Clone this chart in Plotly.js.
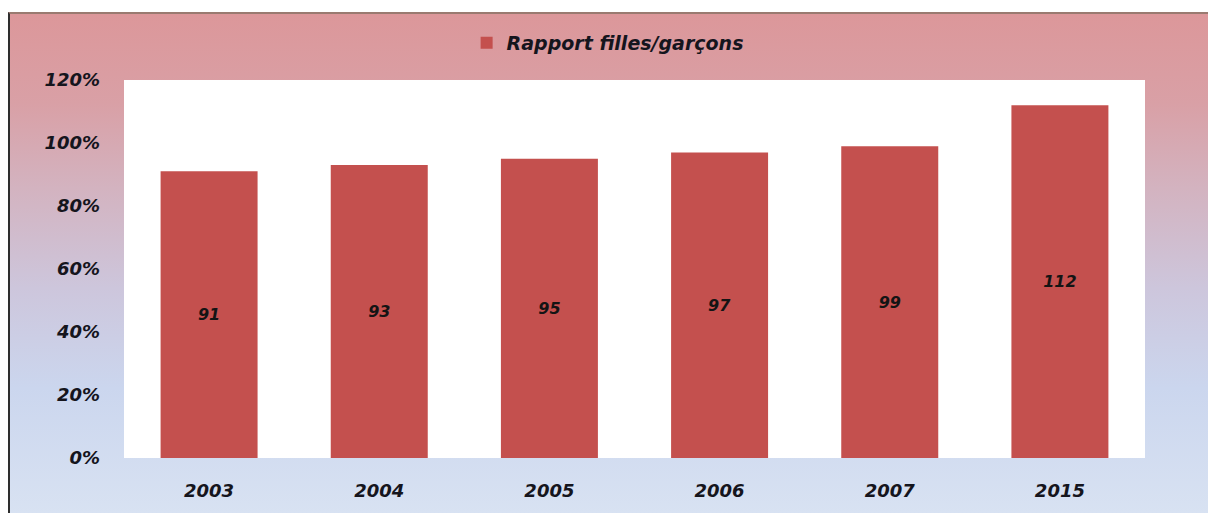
<!DOCTYPE html>
<html>
<head>
<meta charset="utf-8">
<script src="https://cdn.plot.ly/plotly-3.0.1.min.js"></script>
<style>
  html, body { margin: 0; padding: 0; background: #ffffff; width: 1208px; height: 513px; overflow: hidden; }
  #bg {
    position: absolute; left: 8px; top: 12px; width: 1200px; height: 501px;
    border-left: 2px solid #2e2e2e; border-top: 2px solid #9a7a70;
    box-sizing: border-box;
    background: linear-gradient(to bottom, #dc979a 0%, #d9a0a6 18%, #d3b3c0 35%, #cdc6dc 55%, #cbd6ee 75%, #d8e2f2 100%);
  }
  #chart { position: absolute; left: 0; top: 0; width: 1208px; height: 513px; }
</style>
</head>
<body>
<div id="bg"></div>
<div id="chart"></div>
<script>
const categories = ["2003", "2004", "2005", "2006", "2007", "2015"];
const ratioValues = [91, 93, 95, 97, 99, 112];
const valueLabels = ["91", "93", "95", "97", "99", "112"];
const yTickValues = [0, 20, 40, 60, 80, 100, 120];
const yTickLabels = ["0%", "20%", "40%", "60%", "80%", "100%", "120%"];
const seriesName = "Rapport filles/garçons";

const labelFont = { family: "DejaVu Sans", size: 18, color: "#15151d", weight: "bold", style: "italic" };

const trace = {
  type: "bar",
  x: categories,
  y: ratioValues,
  name: seriesName,
  text: valueLabels,
  textposition: "inside",
  insidetextanchor: "middle",
  textangle: 0,
  textfont: { family: "DejaVu Sans", size: 16, color: "#141414", weight: "bold", style: "italic" },
  marker: { color: "#c4504e" },
  showlegend: true,
  hoverinfo: "none"
};

const layout = {
  width: 1208,
  height: 513,
  margin: { l: 124, r: 63, t: 80, b: 55 },
  paper_bgcolor: "rgba(0,0,0,0)",
  plot_bgcolor: "#ffffff",
  bargap: 0.43,
  showlegend: true,
  legend: {
    orientation: "h",
    xref: "container", yref: "container",
    x: 0.503, xanchor: "center",
    y: 1 - 43 / 513, yanchor: "middle",
    bgcolor: "rgba(0,0,0,0)",
    itemwidth: 30,
    font: { family: "DejaVu Sans", size: 19, color: "#15151d", weight: "bold", style: "italic" }
  },
  xaxis: {
    type: "category",
    showgrid: false,
    zeroline: false,
    showline: false,
    ticks: "",
    tickfont: labelFont,
    ticklabelstandoff: 20
  },
  yaxis: {
    range: [0, 120],
    tickvals: yTickValues,
    ticktext: yTickLabels,
    showgrid: false,
    zeroline: false,
    showline: false,
    ticks: "",
    tickfont: labelFont,
    ticklabelstandoff: 23
  }
};

Plotly.newPlot("chart", [trace], layout, { displayModeBar: false, staticPlot: true });
</script>
</body>
</html>
